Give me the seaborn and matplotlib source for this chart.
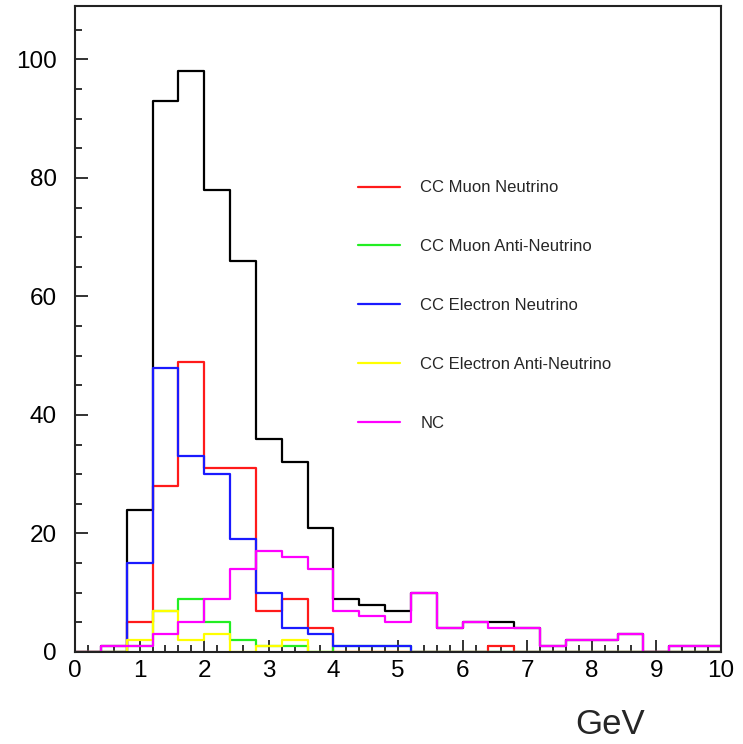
import numpy as np
import pandas as pd
import seaborn as sns
import matplotlib.pyplot as plt
from matplotlib.lines import Line2D
from matplotlib.ticker import MultipleLocator

# bins: 25 bins of 0.4 GeV from 0 to 10
bin_width = 0.4
bin_centers = np.arange(25) * bin_width + bin_width / 2

# counts per bin
total = [0, 1, 24, 93, 98, 78, 66, 36, 32, 21, 9, 8, 7, 10, 4, 5, 5, 4, 1, 2, 2, 3, 0, 1, 1]
cc_numu = [0, 0, 5, 28, 49, 31, 31, 7, 9, 4, 0, 0, 0, 0, 0, 0, 1, 0, 0, 0, 0, 0, 0, 0, 0]
cc_numubar = [0, 0, 1, 7, 9, 5, 2, 1, 1, 0, 1, 1, 1, 0, 0, 0, 0, 0, 0, 0, 0, 0, 0, 0, 0]
cc_nue = [0, 0, 15, 48, 33, 30, 19, 10, 4, 3, 1, 1, 1, 0, 0, 0, 0, 0, 0, 0, 0, 0, 0, 0, 0]
cc_nuebar = [0, 0, 2, 7, 2, 3, 0, 1, 2, 0, 0, 0, 0, 0, 0, 0, 0, 0, 0, 0, 0, 0, 0, 0, 0]
nc = [0, 1, 1, 3, 5, 9, 14, 17, 16, 14, 7, 6, 5, 10, 4, 5, 4, 4, 1, 2, 2, 3, 0, 1, 1]

series_names = ["Total", "CC Muon Neutrino", "CC Muon Anti-Neutrino",
                "CC Electron Neutrino", "CC Electron Anti-Neutrino", "NC"]
series_values = [total, cc_numu, cc_numubar, cc_nue, cc_nuebar, nc]
series_colors = ["black", "#ff1a1a", "#22ee22", "#1a1aff", "#ffff00", "#ff00ff"]

sns.set_style("ticks")
plt.rcParams["font.family"] = ["Liberation Sans", "DejaVu Sans"]

fig = plt.figure(figsize=(7.43, 7.44), dpi=100)
ax = fig.add_axes([75 / 743, 1 - 652 / 744, 646 / 743, 646 / 744])

# een stap-histogram per reeks (volgorde: zwart eerst, roze bovenop)
for naam, waarden, kleur in zip(series_names, series_values, series_colors):
    df = pd.DataFrame({"energie": bin_centers, "aantal": waarden})
    sns.histplot(data=df, x="energie", weights="aantal", binwidth=bin_width,
                 binrange=(0, 10), element="step", fill=False, color=kleur,
                 linewidth=1.6, ax=ax)

ax.set_xlim(0, 10)
ax.set_ylim(0, 109)
ax.set_xlabel("")
ax.set_ylabel("")

ax.xaxis.set_major_locator(MultipleLocator(1))
ax.xaxis.set_minor_locator(MultipleLocator(0.2))
ax.yaxis.set_major_locator(MultipleLocator(20))
ax.yaxis.set_minor_locator(MultipleLocator(5))
ax.tick_params(axis="both", which="both", direction="in", top=False, right=False,
               width=1.3, colors="#222222", labelcolor="black")
ax.tick_params(axis="both", which="major", length=9, labelsize=17.5)
ax.tick_params(axis="both", which="minor", length=5)
ax.tick_params(axis="y", which="major", pad=13)
ax.tick_params(axis="x", which="major", pad=5.5)

for spine in ax.spines.values():
    spine.set_linewidth(1.5)
    spine.set_color("#222222")

# legenda zonder kader
handles = [Line2D([], [], color=c, linewidth=1.6) for c in series_colors[1:]]
ax.legend(handles, series_names[1:], loc="upper left",
          bbox_to_anchor=(0.438, 0.73), frameon=False, fontsize=12,
          handlelength=2.5, handletextpad=1.25, labelspacing=2.63,
          borderpad=0, borderaxespad=0)

fig.text(610 / 743, 1 - 724 / 744, "GeV", ha="center", va="center", fontsize=25)

fig.savefig("out.png", dpi=100)
